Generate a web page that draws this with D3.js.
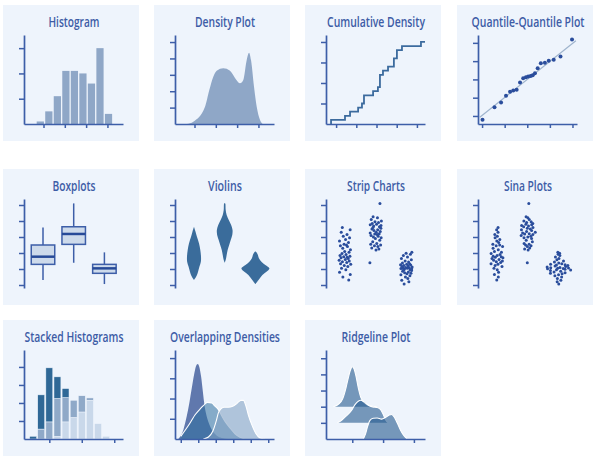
<!DOCTYPE html>
<html><head><meta charset="utf-8">
<script src="https://cdn.jsdelivr.net/npm/d3@7"></script>
<style>body{margin:0;background:#fff}svg{display:block}</style>
</head><body><svg id="c" width="600" height="461"></svg>
<script>
// ---------------- DATA ----------------
const titles = ["Histogram","Density Plot","Cumulative Density","Quantile-Quantile Plot","Boxplots","Violins","Strip Charts","Sina Plots","Stacked Histograms","Overlapping Densities","Ridgeline Plot"];

// Histogram
const histEdges = [6.5,10.5,14.5,18.5,22.5,26.5,30.5,34.5,38.5,42.5];
const histCounts = [1,5,11,21,21,20,16,30,4];
const histXTicks = [10,20,30,40];
const histYTicks = [10,20,30];

// Density plot
const densX = [6.48,9.44,14.93,16.95,18.82,20.42,23.52,26.66,29.48,31.35,32.9,34.5,35.58,36.51,37.92,39.19,40.74,42.0];
const densY = [0,0.14,1.05,2.07,2.88,3.25,3.4,3.25,2.72,2.48,2.68,3.9,4.35,3.9,2.27,1.05,0.25,0];
const densYTicks = [1,2,3,4,5];

// Cumulative density (sorted sample)
const cdfValues = [-0.25,0.44,0.69,1.09,1.28,1.38,1.38,1.83,2.07,2.17,2.17,2.17,2.32,2.57,2.86,2.86,3.01,3.01,3.26,4.2];
const cdfXTicks = [0,1,2,3,4];
const cdfYTicks = [0.25,0.5,0.75,1];

// Q-Q plot
const qqTheory = [-1.98,-1.45,-1.16,-0.94,-0.76,-0.62,-0.47,-0.32,-0.18,-0.06,0.04,0.15,0.24,0.34,0.46,0.6,0.78,0.95,1.17,1.47,1.98];
const qqSample = [-2.21,-1.52,-1.27,-0.9,-0.67,-0.61,-0.57,-0.17,0.07,0.12,0.16,0.19,0.23,0.34,0.61,0.88,0.91,1.02,1.07,1.25,2.19];
const qqLineX = [-2.1,2.15];
const qqLineY = [-2.07,2.12];
const qqTicks = [-2,-1,0,1,2];

// Grouped data (row 2)
const groups = ["A","B","C"];
const groupYTicks = [0,1,2,3,4,5];
const boxLow  = [0.31,1.39,0.06];
const boxQ1   = [1.29,2.54,0.73];
const boxMed  = [1.77,3.19,1.04];
const boxQ3   = [2.5,3.64,1.29];
const boxHigh = [3.6,5.1,2.04];

const violinA = [[0.31,0],[0.56,0.18],[0.83,0.29],[1.15,0.39],[1.46,0.49],[1.77,0.5],[2.19,0.45],[2.6,0.36],[3.02,0.21],[3.33,0.11],[3.64,0]];
const violinB = [[1.39,0],[1.56,0.07],[1.88,0.14],[2.19,0.21],[2.5,0.32],[2.81,0.43],[3.13,0.54],[3.44,0.56],[3.75,0.46],[4.06,0.29],[4.38,0.14],[4.69,0.07],[5.1,0.04],[5.13,0]];
const violinC = [[0.06,0],[0.35,0.25],[0.63,0.5],[0.83,0.79],[1.04,1.0],[1.25,0.71],[1.46,0.43],[1.67,0.25],[1.88,0.18],[2.08,0.04],[2.1,0]];

const valuesA = [0.31,0.5,0.65,0.8,0.95,1.05,1.15,1.22,1.29,1.33,1.4,1.45,1.5,1.55,1.6,1.65,1.7,1.74,1.77,1.8,1.85,1.9,1.97,2.05,2.1,2.2,2.3,2.4,2.45,2.5,2.55,2.65,2.75,2.85,2.95,3.05,3.15,3.3,3.45,3.6];
const valuesB = [1.39,2.19,2.25,2.32,2.4,2.45,2.5,2.54,2.6,2.7,2.8,2.9,2.95,3.0,3.05,3.1,3.15,3.18,3.2,3.25,3.3,3.35,3.4,3.45,3.5,3.55,3.6,3.64,3.68,3.72,3.76,3.8,3.85,3.9,3.95,4.0,4.1,4.2,4.27,5.1];
const valuesC = [0.06,0.2,0.3,0.4,0.5,0.58,0.64,0.7,0.73,0.77,0.82,0.86,0.9,0.93,0.96,0.99,1.01,1.03,1.04,1.06,1.08,1.1,1.13,1.16,1.19,1.22,1.25,1.27,1.29,1.33,1.38,1.43,1.5,1.58,1.66,1.75,1.84,1.92,1.98,2.04];
const stripJitter = [0.62,-0.35,0.88,-0.91,0.14,-0.58,0.47,-0.12,0.95,-0.74,0.29,-0.43,0.71,-0.97,0.05,0.53,-0.66,0.36,-0.21,0.82,-0.83,0.18,-0.5,0.67,-0.05,0.91,-0.38,0.41,-0.77,0.24,-0.16,0.58,-0.92,0.09,0.76,-0.29,0.33,-0.63,0.86,-0.45];
const sinaJitter = [-0.2,0.7,-0.85,0.4,0.05,-0.6,0.92,-0.33,0.15,-0.95,0.55,-0.1,0.78,-0.48,0.3,-0.72,0.85,-0.25,0.6,-0.55,0.02,0.44,-0.88,0.68,-0.4,0.2,-0.66,0.98,-0.15,0.5,-0.8,0.35,-0.05,0.74,-0.58,0.12,-0.92,0.62,-0.3,0.9];

// Stacked histogram
const stackEdges = [3.75,6.25,8.75,11.25,13.75,16.25,18.75,21.25,23.75,26.25,28.75];
const stackLight = [0,0,0,1.5,9.5,12,15,21.5,8.5,1.5];
const stackMid   = [0,5.5,9.5,21,13.5,9.5,9,1.3,0,0];
const stackDark  = [1.5,19,30,12,5,0,0,0,0,0];
const stackXTicks = [10,20,30];
const stackYTicks = [10,20,30,40];

// Overlapping densities
const overlapA = [[-0.14,0],[0,0.16],[0.15,0.46],[0.34,1.12],[0.49,1.78],[0.63,2.52],[0.76,3.18],[0.87,3.6],[0.97,3.71],[1.06,3.56],[1.16,3.1],[1.26,2.36],[1.35,1.7],[1.48,1.12],[1.64,0.71],[1.83,0.38],[2.06,0.16],[2.34,0.05],[2.72,0]];
const overlapB = [[0,0.13],[0.25,0.43],[0.53,0.79],[0.82,1.2],[1.1,1.48],[1.29,1.65],[1.52,1.81],[1.77,1.78],[1.96,1.62],[2.15,1.45],[2.34,1.15],[2.53,0.87],[2.82,0.54],[3.1,0.26],[3.39,0.08],[3.67,0]];
const overlapC = [[1.29,0],[1.58,0.1],[1.83,0.38],[2.02,0.87],[2.15,1.29],[2.28,1.48],[2.47,1.57],[2.72,1.57],[2.97,1.62],[3.2,1.75],[3.43,1.91],[3.58,1.91],[3.73,1.62],[3.86,1.2],[4.06,0.71],[4.3,0.26],[4.53,0.05],[4.82,0]];
const overlapXTicks = [0,1,2,3,4,5];
const overlapYTicks = [1,2,3,4];

// Ridgeline
const ridgeBase = [2,1,0];
const ridge1 = [[0.385,0],[0.547,0.14],[0.688,0.49],[0.796,1.17],[0.871,1.79],[0.947,2.3],[1.0,2.47],[1.055,2.35],[1.12,1.89],[1.195,1.17],[1.28,0.56],[1.41,0.21],[1.57,0.06],[1.79,0]];
const ridge2 = [[0.515,0],[0.655,0.16],[0.818,0.45],[0.98,0.78],[1.088,1.13],[1.195,1.34],[1.27,1.4],[1.38,1.3],[1.52,1.09],[1.66,0.99],[1.81,0.95],[1.92,0.82],[2.006,0.51],[2.09,0.16],[2.17,0]];
const ridge3 = [[1.358,0],[1.433,0.33],[1.498,0.78],[1.574,1.15],[1.68,1.28],[1.81,1.3],[1.95,1.23],[2.09,1.35],[2.2,1.48],[2.276,1.52],[2.36,1.36],[2.46,0.99],[2.57,0.53],[2.676,0.21],[2.78,0]];
const ridgeXTicks = [1,2,3];
const ridgeYTicks = [1,2,3,4,5];

// ---------------- LAYOUT / STYLE ----------------
const COL_X = [3,154,305,457], ROW_Y = [5,169,320], PW = 136, PH = 136;
const L = 21, R = 120, T = 30, B = 119;
const TITLE_W = {"Histogram":51,"Density Plot":60,"Cumulative Density":98,"Quantile-Quantile Plot":113,"Boxplots":43,"Violins":34,"Strip Charts":58,"Sina Plots":48,"Stacked Histograms":99,"Overlapping Densities":110,"Ridgeline Plot":69};
const C = {
  bg:"#eef4fc", axis:"#3d5ea8", title:"#3d5ca6", bar:"#8fa7c7",
  boxFill:"#cddaeb", boxStroke:"#3d5ea8", median:"#274a98",
  violin:"#3a6c9b", dot:"#2a4d9c", qqLine:"#9fb4cd", step:"#3c6b9e",
  dark:"#2f6896", mid:"#8fa9c8", light:"#c9d8ea"
};
const FONT = "'Open Sans','Noto Sans',sans-serif";
const svg = d3.select("#c");

function panel(i){
  const col = i % 4, row = Math.floor(i / 4);
  const g = svg.append("g").attr("transform", `translate(${COL_X[col]},${ROW_Y[row]})`);
  g.append("rect").attr("width", PW).attr("height", PH).attr("fill", C.bg);
  // condensed look: measure the natural width, then squeeze horizontally
  const tg = g.append("g");
  const t = tg.append("text").attr("x", 0).attr("y", 0).attr("text-anchor", "middle")
    .attr("font-family", FONT).attr("font-size", 14).attr("font-weight", 600)
    .attr("fill", C.title).text(titles[i]);
  const natural = t.node().getComputedTextLength() || TITLE_W[titles[i]];
  const sx = Math.min(1, TITLE_W[titles[i]] / natural);
  tg.attr("transform", `translate(71,22) scale(${sx},1)`);
  return g;
}
function styleAxis(a){
  a.select(".domain").attr("stroke", C.axis).attr("stroke-width", 1.7);
  a.selectAll(".tick line").attr("stroke", C.axis).attr("stroke-width", 1.5);
}
function yAxis(g, y, ticks){
  const a = g.append("g").attr("transform", `translate(${L},0)`)
    .call(d3.axisLeft(y).tickValues(ticks).tickSize(5).tickSizeOuter(0).tickFormat(""));
  styleAxis(a);
}
function xAxis(g, x, ticks){
  const a = g.append("g").attr("transform", `translate(0,${B})`)
    .call(d3.axisBottom(x).tickValues(ticks).tickSize(4).tickSizeOuter(0).tickFormat(""));
  styleAxis(a);
}

// ---------- 1 Histogram ----------
{
  const g = panel(0);
  const x = d3.scaleLinear().domain([0.85,47.3]).range([L,R]);
  const y = d3.scaleLinear().domain([0,35.2]).range([B,T]);
  g.selectAll("rect.bar").data(histCounts).join("rect").attr("class","bar")
    .attr("x",(d,i)=>x(histEdges[i])+0.65).attr("width",(d,i)=>x(histEdges[i+1])-x(histEdges[i])-1.3)
    .attr("y",d=>y(d)).attr("height",d=>B-y(d)).attr("fill",C.bar);
  yAxis(g,y,histYTicks); xAxis(g,x,histXTicks);
}
// ---------- 2 Density ----------
{
  const g = panel(1);
  const x = d3.scaleLinear().domain([0.85,47.3]).range([L,R]);
  const y = d3.scaleLinear().domain([0,5.43]).range([B,T]);
  const pts = densX.map((v,i)=>[v,densY[i]]);
  g.append("path").datum(pts).attr("fill",C.bar)
    .attr("d", d3.area().x(d=>x(d[0])).y0(B).y1(d=>y(d[1])).curve(d3.curveMonotoneX));
  yAxis(g,y,densYTicks); xAxis(g,x,histXTicks);
}
// ---------- 3 Cumulative ----------
{
  const g = panel(2);
  const x = d3.scaleLinear().domain([-0.5,4.4]).range([L,R]);
  const y = d3.scaleLinear().domain([0,1.085]).range([B,T]);
  const n = cdfValues.length;
  const pts = [[cdfValues[0],0]].concat(cdfValues.map((v,i)=>[v,(i+1)/n]), [[x.domain()[1],1]]);
  yAxis(g,y,cdfYTicks); xAxis(g,x,cdfXTicks);
  g.append("path").datum(pts).attr("fill","none").attr("stroke",C.step).attr("stroke-width",1.8)
    .attr("d", d3.line().x(d=>x(d[0])).y(d=>y(d[1])).curve(d3.curveStepAfter));
}
// ---------- 4 Q-Q ----------
{
  const g = panel(3);
  const x = d3.scaleLinear().domain([-2.18,2.2]).range([L,R]);
  const y = d3.scaleLinear().domain([-2.44,2.43]).range([B,T]);
  g.append("line").attr("x1",x(qqLineX[0])).attr("y1",y(qqLineY[0])).attr("x2",x(qqLineX[1])).attr("y2",y(qqLineY[1]))
    .attr("stroke",C.qqLine).attr("stroke-width",1.2);
  g.selectAll("circle").data(qqTheory).join("circle")
    .attr("cx",d=>x(d)).attr("cy",(d,i)=>y(qqSample[i])).attr("r",2).attr("fill",C.dot);
  yAxis(g,y,qqTicks); xAxis(g,x,qqTicks);
}

// row 2 shared scales
const yG = d3.scaleLinear().domain([-0.1875,5.375]).range([B,T]);
const xG = d3.scalePoint().domain(groups).range([40,101.4]);
const violins = [violinA,violinB,violinC];
const groupValues = [valuesA,valuesB,valuesC];
const vw = d3.scaleLinear().domain([0,1]).range([0,14]);

// ---------- 5 Boxplots ----------
{
  const g = panel(4);
  const bw = 23.5;
  groups.forEach((k,i)=>{
    const cx = xG(k);
    g.append("line").attr("x1",cx).attr("x2",cx).attr("y1",yG(boxHigh[i])).attr("y2",yG(boxLow[i]))
      .attr("stroke",C.boxStroke).attr("stroke-width",1.5);
    g.append("rect").attr("x",cx-bw/2).attr("width",bw).attr("y",yG(boxQ3[i])).attr("height",yG(boxQ1[i])-yG(boxQ3[i]))
      .attr("fill",C.boxFill).attr("stroke",C.boxStroke).attr("stroke-width",1.5);
    g.append("line").attr("x1",cx-bw/2).attr("x2",cx+bw/2).attr("y1",yG(boxMed[i])).attr("y2",yG(boxMed[i]))
      .attr("stroke",C.median).attr("stroke-width",2.5);
  });
  yAxis(g,yG,groupYTicks);
}
// ---------- 6 Violins ----------
{
  const g = panel(5);
  groups.forEach((k,i)=>{
    const cx = xG(k);
    g.append("path").datum(violins[i]).attr("fill",C.violin)
      .attr("d", d3.area().curve(d3.curveCatmullRom).y(d=>yG(d[0])).x0(d=>cx-vw(d[1])).x1(d=>cx+vw(d[1])));
  });
  yAxis(g,yG,groupYTicks);
}
// ---------- 7 Strip ----------
{
  const g = panel(6);
  groups.forEach((k,i)=>{
    const cx = xG(k);
    g.selectAll("circle.g"+i).data(groupValues[i]).join("circle").attr("class","g"+i)
      .attr("cx",(d,j)=>cx + 6*stripJitter[(j+13*i)%stripJitter.length])
      .attr("cy",d=>yG(d)).attr("r",1.5).attr("fill",C.dot);
  });
  yAxis(g,yG,groupYTicks);
}
// ---------- 8 Sina ----------
{
  const g = panel(7);
  function halfWidth(prof, v){
    const s = prof.slice().sort((a,b)=>a[0]-b[0]);
    const i = d3.bisector(d=>d[0]).left(s, v);
    if (i<=0) return s[0][1];
    if (i>=s.length) return s[s.length-1][1];
    const a = s[i-1], b = s[i], t = (v-a[0])/(b[0]-a[0]);
    return a[1] + t*(b[1]-a[1]);
  }
  groups.forEach((k,i)=>{
    const cx = xG(k);
    g.selectAll("circle.g"+i).data(groupValues[i]).join("circle").attr("class","g"+i)
      .attr("cx",(d,j)=>cx + sinaJitter[(j+7*i)%sinaJitter.length]*Math.max(1.2, vw(halfWidth(violins[i],d))))
      .attr("cy",d=>yG(d)).attr("r",1.5).attr("fill",C.dot);
  });
  yAxis(g,yG,groupYTicks);
}
// ---------- 9 Stacked histograms ----------
{
  const g = panel(8);
  const x = d3.scaleLinear().domain([2.2,32.7]).range([L,R]);
  const y = d3.scaleLinear().domain([0,49.4]).range([B,T]);
  const rows = stackLight.map((v,i)=>({i, light:v, mid:stackMid[i], dark:stackDark[i]}));
  const series = d3.stack().keys(["light","mid","dark"])(rows);
  const col = {light:C.light, mid:C.mid, dark:C.dark};
  series.forEach(s=>{
    g.selectAll("rect."+s.key).data(s).join("rect").attr("class",s.key)
      .attr("x",d=>x(stackEdges[d.data.i])+0.6).attr("width",d=>x(stackEdges[d.data.i+1])-x(stackEdges[d.data.i])-1.2)
      .attr("y",d=>y(d[1])).attr("height",d=>Math.max(0,y(d[0])-y(d[1])))
      .attr("fill",col[s.key]).attr("stroke",C.bg).attr("stroke-width",0.5);
  });
  yAxis(g,y,stackYTicks); xAxis(g,x,stackXTicks);
}
// ---------- 10 Overlapping densities ----------
{
  const g = panel(9);
  const x = d3.scaleLinear().domain([-0.33,5.33]).range([L,R]);
  const y = d3.scaleLinear().domain([0,4.4]).range([B,T]);
  const area = d3.area().x(d=>x(d[0])).y0(B).y1(d=>y(d[1])).curve(d3.curveMonotoneX);
  const line = d3.line().x(d=>x(d[0])).y(d=>y(d[1])).curve(d3.curveMonotoneX);
  const sets = [[overlapA,"#46619f",0.85,false],[overlapB,"#2f6f9f",0.55,true],[overlapC,"#86a4c4",0.6,true]];
  sets.forEach(([d,c,o,outline])=>{
    g.append("path").datum(d).attr("fill",c).attr("fill-opacity",o).attr("d",area);
    if (outline) g.append("path").datum(d).attr("fill","none").attr("stroke","#fff").attr("stroke-width",1.1).attr("d",line);
  });
  yAxis(g,y,overlapYTicks); xAxis(g,x,overlapXTicks);
}
// ---------- 11 Ridgeline ----------
{
  const g = panel(10);
  const x = d3.scaleLinear().domain([0.147,3.36]).range([L,R]);
  const y = d3.scaleLinear().domain([0,5.51]).range([B,T]);
  [ridge1,ridge2,ridge3].forEach((d,i)=>{
    const b = ridgeBase[i];
    g.append("path").datum(d).attr("fill","#2a5d92").attr("fill-opacity",0.62)
      .attr("d", d3.area().x(p=>x(p[0])).y0(y(b)).y1(p=>y(b+p[1])).curve(d3.curveMonotoneX));
    g.append("path").datum(d).attr("fill","none").attr("stroke","#fff").attr("stroke-width",1.1)
      .attr("d", d3.line().x(p=>x(p[0])).y(p=>y(b+p[1])).curve(d3.curveMonotoneX));
  });
  yAxis(g,y,ridgeYTicks); xAxis(g,x,ridgeXTicks);
}
</script></body></html>
